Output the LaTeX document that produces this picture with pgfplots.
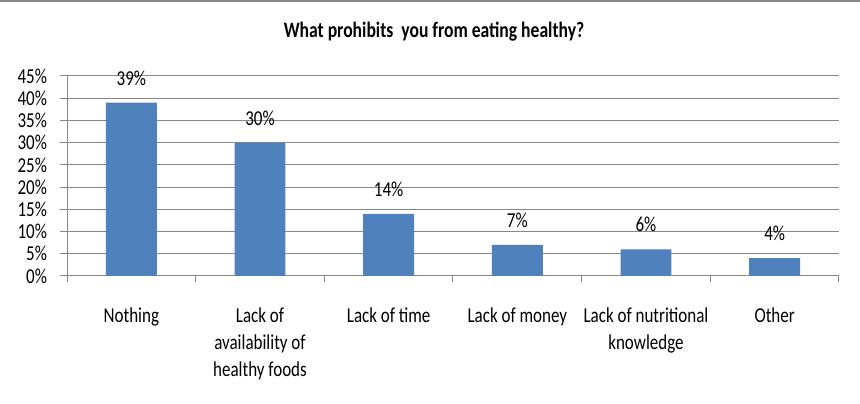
\documentclass[border=0pt]{standalone}
\usepackage{pgfplots}
\pgfplotsset{compat=1.18}
\usepackage{fontspec}
\setmainfont{Carlito}
\usepackage{graphicx}
\definecolor{barblue}{HTML}{4F81BD}
\definecolor{gridgray}{HTML}{878787}
\newcommand{\sv}[1]{\scalebox{1}[1.25]{#1}}
\newcommand{\lbl}[1]{\scalebox{1}[1.25]{\begin{tabular}{@{}c@{}}#1\end{tabular}}}
\begin{document}
\begin{tikzpicture}[x=1pt,y=1pt]
\useasboundingbox (0,0) rectangle (860,404);
\draw[gridgray, line width=2pt] (0,403) -- (860,403);
\node[font=\bfseries\fontsize{17.6}{20}\selectfont] at (434,372) {\sv{What prohibits\ \ you from eating healthy?}};
\begin{axis}[
  at={(67pt,128pt)}, anchor=south west,
  width=772pt, height=200pt, scale only axis,
  xmin=-0.5, xmax=5.5, ymin=0, ymax=45,
  ybar, bar width=0.396, clip=false,
  axis x line*=bottom, axis y line*=left,
  axis line style={gridgray, line width=1pt},
  /pgf/number format/assume math mode=true,
  ytick={0,5,...,45},
  yticklabel={\sv{\pgfmathprintnumber{\tick}\%}},
  ymajorgrids, grid style={gridgray, line width=1pt},
  xtick={-0.5,0.5,...,5.5},
  x tick label as interval,
  xticklabels={{\lbl{Nothing}},{\lbl{Lack of\\availability of\\healthy foods}},{\lbl{Lack of time}},{\lbl{Lack of money}},{\lbl{Lack of nutritional\\knowledge}},{\lbl{Other}}},
  tick align=outside, major tick length=6.5pt,
  tick style={gridgray, line width=1pt},
  tick label style={font=\fontsize{17}{21.8}\selectfont, text=black},
  xticklabel style={anchor=north, yshift=-17pt},
  yticklabel style={anchor=east, xshift=-10pt},
  nodes near coords={\sv{\pgfmathprintnumber{\pgfplotspointmeta}\%}},
  nodes near coords style={anchor=south, inner sep=0pt, yshift=17pt, font=\fontsize{17}{21}\selectfont, text=black},
]
\addplot[fill=barblue, draw=none] coordinates {(0,39) (1,30) (2,14) (3,7) (4,6) (5,4)};
\end{axis}
\end{tikzpicture}
\end{document}
